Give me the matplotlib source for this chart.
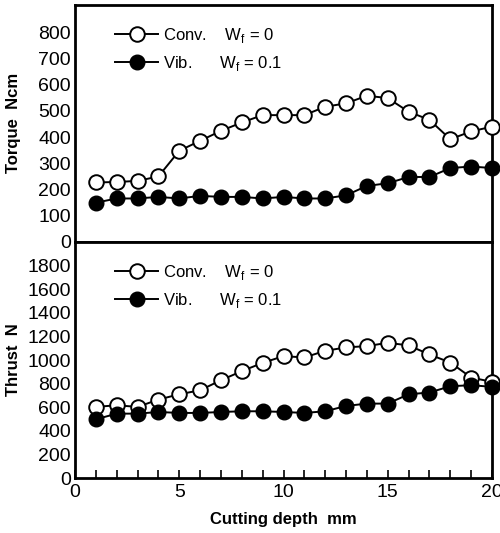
import matplotlib.pyplot as plt

# ----------------------------------------------------------------------------
# Data
# ----------------------------------------------------------------------------
depth = list(range(1, 21))

torque_conv = [227, 229, 233, 250, 348, 386, 424, 456, 484, 484,
               484, 516, 529, 558, 549, 497, 466, 392, 422, 440]
torque_vib = [150, 166, 166, 172, 166, 176, 172, 172, 166, 172,
              166, 166, 178, 214, 224, 248, 248, 282, 288, 282]

thrust_conv = [603, 617, 603, 665, 710, 744, 829, 906, 976, 1033,
               1022, 1078, 1107, 1118, 1146, 1124, 1047, 979, 852, 815]
thrust_vib = [498, 546, 546, 560, 552, 552, 560, 566, 566, 560,
              552, 566, 611, 631, 631, 710, 725, 778, 787, 773]

conv_label = r"Conv.    W$_\mathregular{f}$ = 0"
vib_label = r"Vib.      W$_\mathregular{f}$ = 0.1"

torque_ticks = list(range(0, 900, 100))
thrust_ticks = list(range(0, 2000, 200))
x_ticks = [0, 5, 10, 15, 20]

# ----------------------------------------------------------------------------
# Plot settings
# ----------------------------------------------------------------------------
plt.rcParams["font.family"] = ["Liberation Sans", "DejaVu Sans"]
tick_size = 14
label_size = 12
marker_size = 10.5
line_width = 1.4
spine_width = 2.0

fig = plt.figure(figsize=(5.0, 5.33), dpi=100)
ax_top = fig.add_axes([0.15, 0.546, 0.834, 0.445])
ax_bot = fig.add_axes([0.15, 0.103, 0.834, 0.443])


def draw(ax, conv, vib, anchor_y):
    ax.plot(depth, conv, "-o", color="black", markerfacecolor="white",
            markeredgecolor="black", markeredgewidth=1.4,
            markersize=marker_size, linewidth=line_width, label=conv_label,
            clip_on=False, zorder=3)
    ax.plot(depth, vib, "-o", color="black", markerfacecolor="black",
            markersize=marker_size, linewidth=line_width, label=vib_label,
            clip_on=False, zorder=3)
    for s in ax.spines.values():
        s.set_linewidth(spine_width)
    ax.set_xlim(0, 20)
    ax.legend(loc="upper left", bbox_to_anchor=(0.06, anchor_y), frameon=False,
              fontsize=label_size, handlelength=2.6, labelspacing=0.55,
              handletextpad=0.3)


draw(ax_top, torque_conv, torque_vib, 0.975)
ax_top.set_ylim(0, 905)
ax_top.set_yticks(torque_ticks)
ax_top.set_xticks([])
ax_top.tick_params(axis="y", length=0, labelsize=tick_size, pad=3)
ax_top.set_ylabel("Torque  Ncm", fontsize=label_size, fontweight="bold")
ax_top.yaxis.set_label_coords(-0.13, 0.5)

draw(ax_bot, thrust_conv, thrust_vib, 0.975)
ax_bot.set_ylim(0, 2000)
ax_bot.set_yticks(thrust_ticks)
ax_bot.set_xticks(x_ticks)
ax_bot.set_xticks(depth, minor=True)
ax_bot.tick_params(axis="y", length=0, labelsize=tick_size, pad=3)
ax_bot.tick_params(axis="x", which="both", direction="in", length=6,
                   width=1.2, labelsize=tick_size, pad=4)
ax_bot.set_ylabel("Thrust  N", fontsize=label_size, fontweight="bold")
ax_bot.yaxis.set_label_coords(-0.13, 0.5)
ax_bot.set_xlabel("Cutting depth  mm", fontsize=label_size,
                  fontweight="bold", labelpad=8)

plt.savefig("out.png", dpi=100)
plt.close()
